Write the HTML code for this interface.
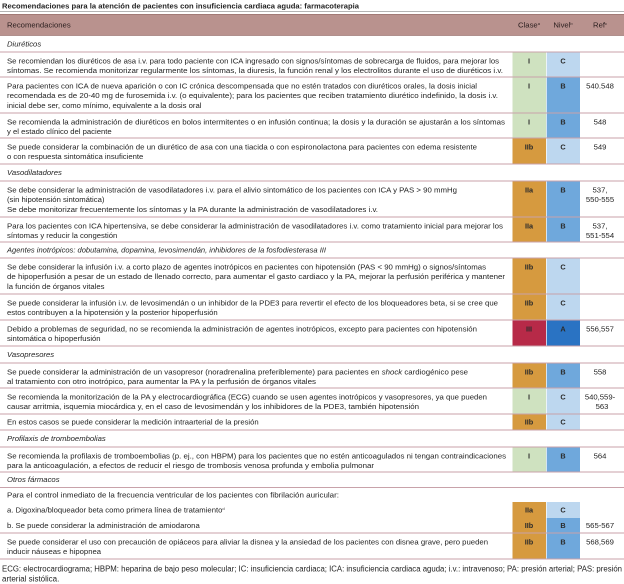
<!DOCTYPE html>
<html><head><meta charset="utf-8"><style>
html,body{margin:0;padding:0;background:#fff;}
svg{display:block;}
text{font-family:"Liberation Sans","DejaVu Sans",sans-serif;font-size:7.7px;fill:#242424;}
.b{font-weight:bold;font-size:7.3px;fill:#2a2a2a;}
.i{font-style:italic;}
.h{fill:#2a1e1e;}
.sup{font-size:4px;}
</style></head><body>
<svg width="624" height="584" viewBox="0 0 624 584" xmlns="http://www.w3.org/2000/svg">
<rect x="0" y="0" width="624" height="584" fill="#fff"/>
<!-- title -->
<text x="2" y="8.3" font-weight="bold" style="font-size:7.6px" textLength="357" lengthAdjust="spacingAndGlyphs">Recomendaciones para la atención de pacientes con insuficiencia cardiaca aguda: farmacoterapia</text>
<rect x="0" y="11" width="624" height="1" fill="#b4b4b4"/>
<!-- header -->
<rect x="0" y="14" width="624" height="21.5" fill="#b9928e"/>
<rect x="0" y="14" width="624" height="0.8" fill="#9c7471"/>
<rect x="0" y="35" width="624" height="0.8" fill="#9c7471"/>
<text class="h" x="7" y="27.5">Recomendaciones</text>
<text class="h" x="529" y="27.5" text-anchor="middle">Clase<tspan class="sup" dy="-2.5">a</tspan></text>
<text class="h" x="563" y="27.5" text-anchor="middle">Nivel<tspan class="sup" dy="-2.5">b</tspan></text>
<text class="h" x="600" y="27.5" text-anchor="middle">Ref<tspan class="sup" dy="-2.5">c</tspan></text>

<!-- colored blocks -->
<g>
<rect x="512.5" y="52" width="33.5" height="25" fill="#cfe2c0"/>
<rect x="512.5" y="77" width="33.5" height="36" fill="#cfe2c0"/>
<rect x="512.5" y="113" width="33.5" height="25" fill="#cfe2c0"/>
<rect x="512.5" y="138" width="33.5" height="26" fill="#d69a3f"/>
<rect x="512.5" y="181" width="33.5" height="36" fill="#d69a3f"/>
<rect x="512.5" y="217" width="33.5" height="25" fill="#d69a3f"/>
<rect x="512.5" y="258" width="33.5" height="36" fill="#d69a3f"/>
<rect x="512.5" y="294" width="33.5" height="26" fill="#d69a3f"/>
<rect x="512.5" y="320" width="33.5" height="26" fill="#b72a48"/>
<rect x="512.5" y="363" width="33.5" height="25" fill="#d69a3f"/>
<rect x="512.5" y="388" width="33.5" height="26" fill="#cfe2c0"/>
<rect x="512.5" y="414" width="33.5" height="16" fill="#d69a3f"/>
<rect x="512.5" y="447" width="33.5" height="25" fill="#cfe2c0"/>
<rect x="512.5" y="502" width="33.5" height="16" fill="#d69a3f"/>
<rect x="512.5" y="518" width="33.5" height="15" fill="#d69a3f"/>
<rect x="512.5" y="533" width="33.5" height="26" fill="#d69a3f"/>
<rect x="546.7" y="52" width="33.3" height="25" fill="#bdd7ef"/>
<rect x="546.7" y="77" width="33.3" height="36" fill="#6fa8dc"/>
<rect x="546.7" y="113" width="33.3" height="25" fill="#6fa8dc"/>
<rect x="546.7" y="138" width="33.3" height="26" fill="#bdd7ef"/>
<rect x="546.7" y="181" width="33.3" height="36" fill="#6fa8dc"/>
<rect x="546.7" y="217" width="33.3" height="25" fill="#6fa8dc"/>
<rect x="546.7" y="258" width="33.3" height="36" fill="#bdd7ef"/>
<rect x="546.7" y="294" width="33.3" height="26" fill="#bdd7ef"/>
<rect x="546.7" y="320" width="33.3" height="26" fill="#2a73c3"/>
<rect x="546.7" y="363" width="33.3" height="25" fill="#6fa8dc"/>
<rect x="546.7" y="388" width="33.3" height="26" fill="#bdd7ef"/>
<rect x="546.7" y="414" width="33.3" height="16" fill="#bdd7ef"/>
<rect x="546.7" y="447" width="33.3" height="25" fill="#6fa8dc"/>
<rect x="546.7" y="502" width="33.3" height="16" fill="#bdd7ef"/>
<rect x="546.7" y="518" width="33.3" height="15" fill="#6fa8dc"/>
<rect x="546.7" y="533" width="33.3" height="26" fill="#6fa8dc"/>
</g>

<!-- separator lines -->
<g fill="#c8a2aa">
<rect x="0" y="51.5" width="624" height="1"/>
<rect x="0" y="76.5" width="624" height="1"/>
<rect x="0" y="112.5" width="624" height="1"/>
<rect x="0" y="137.5" width="624" height="1"/>
<rect x="0" y="163.5" width="624" height="1"/>
<rect x="0" y="180.5" width="624" height="1"/>
<rect x="0" y="216.5" width="624" height="1"/>
<rect x="0" y="241.5" width="624" height="1"/>
<rect x="0" y="257.5" width="624" height="1"/>
<rect x="0" y="293.5" width="624" height="1"/>
<rect x="0" y="319.5" width="624" height="1"/>
<rect x="0" y="345.5" width="624" height="1"/>
<rect x="0" y="362.5" width="624" height="1"/>
<rect x="0" y="387.5" width="624" height="1"/>
<rect x="0" y="413.5" width="624" height="1"/>
<rect x="0" y="429.5" width="624" height="1"/>
<rect x="0" y="446.5" width="624" height="1"/>
<rect x="0" y="471.5" width="624" height="1"/>
<rect x="0" y="487" width="624" height="1"/>
<rect x="0" y="532.5" width="624" height="1"/>
<rect x="0" y="558.5" width="624" height="1"/>
</g>

<!-- block labels -->
<g text-anchor="middle">
<text class="b" x="529" y="63.5">I</text><text class="b" x="563" y="63.5">C</text>
<text class="b" x="529" y="88.5">I</text><text class="b" x="563" y="88.5">B</text>
<text class="b" x="529" y="124.5">I</text><text class="b" x="563" y="124.5">B</text>
<text class="b" x="529" y="149.5">IIb</text><text class="b" x="563" y="149.5">C</text>
<text class="b" x="529" y="192.5">IIa</text><text class="b" x="563" y="192.5">B</text>
<text class="b" x="529" y="228.5">IIa</text><text class="b" x="563" y="228.5">B</text>
<text class="b" x="529" y="269.5">IIb</text><text class="b" x="563" y="269.5">C</text>
<text class="b" x="529" y="305.5">IIb</text><text class="b" x="563" y="305.5">C</text>
<text class="b" x="529" y="331.5">III</text><text class="b" x="563" y="331.5">A</text>
<text class="b" x="529" y="374.5">IIb</text><text class="b" x="563" y="374.5">B</text>
<text class="b" x="529" y="399.5">I</text><text class="b" x="563" y="399.5">C</text>
<text class="b" x="529" y="424.5">IIb</text><text class="b" x="563" y="424.5">C</text>
<text class="b" x="529" y="458.5">I</text><text class="b" x="563" y="458.5">B</text>
<text class="b" x="529" y="512.5">IIa</text><text class="b" x="563" y="512.5">C</text>
<text class="b" x="529" y="528">IIb</text><text class="b" x="563" y="528">B</text>
<text class="b" x="529" y="544.5">IIb</text><text class="b" x="563" y="544.5">B</text>
</g>

<!-- refs -->
<g text-anchor="middle">
<text x="600" y="88.5">540.548</text>
<text x="600" y="124.5">548</text>
<text x="600" y="149.5">549</text>
<text x="600" y="192.5">537,</text><text x="600" y="202.2">550-555</text>
<text x="600" y="228.5">537,</text><text x="600" y="238.2">551-554</text>
<text x="600" y="331.5">556,557</text>
<text x="600" y="374.5">558</text>
<text x="600" y="399.5">540,559-</text><text x="602" y="409.2">563</text>
<text x="600" y="458.5">564</text>
<text x="600" y="528">565-567</text>
<text x="600" y="544.5">568,569</text>
</g>

<!-- category rows -->
<text class="i" x="7" y="46.5">Diuréticos</text>
<text class="i" x="7" y="175">Vasodilatadores</text>
<text class="i" x="7" y="252.5" textLength="319" lengthAdjust="spacingAndGlyphs">Agentes inotrópicos: dobutamina, dopamina, levosimendán, inhibidores de la fosfodiesterasa III</text>
<text class="i" x="7" y="357">Vasopresores</text>
<text class="i" x="7" y="441">Profilaxis de tromboembolias</text>
<text class="i" x="7" y="482">Otros fármacos</text>

<!-- body rows -->
<text x="7" y="63.5" textLength="492" lengthAdjust="spacingAndGlyphs">Se recomiendan los diuréticos de asa i.v. para todo paciente con ICA ingresado con signos/síntomas de sobrecarga de fluidos, para mejorar los</text>
<text x="7" y="73.2" textLength="496" lengthAdjust="spacingAndGlyphs">síntomas. Se recomienda monitorizar regularmente los síntomas, la diuresis, la función renal y los electrolitos durante el uso de diuréticos i.v.</text>

<text x="7" y="88.5" textLength="470" lengthAdjust="spacingAndGlyphs">Para pacientes con ICA de nueva aparición o con IC crónica descompensada que no estén tratados con diuréticos orales, la dosis inicial</text>
<text x="7" y="98.2" textLength="491" lengthAdjust="spacingAndGlyphs">recomendada es de 20-40 mg de furosemida i.v. (o equivalente); para los pacientes que reciben tratamiento diurético indefinido, la dosis i.v.</text>
<text x="7" y="107.9">inicial debe ser, como mínimo, equivalente a la dosis oral</text>

<text x="7" y="124.5" textLength="498" lengthAdjust="spacingAndGlyphs">Se recomienda la administración de diuréticos en bolos intermitentes o en infusión continua; la dosis y la duración se ajustarán a los síntomas</text>
<text x="7" y="134.2">y el estado clínico del paciente</text>

<text x="7" y="149.5" textLength="470" lengthAdjust="spacingAndGlyphs">Se puede considerar la combinación de un diurético de asa con una tiacida o con espironolactona para pacientes con edema resistente</text>
<text x="7" y="159.2">o con respuesta sintomática insuficiente</text>

<text x="7" y="192.5" textLength="450" lengthAdjust="spacingAndGlyphs">Se debe considerar la administración de vasodilatadores i.v. para el alivio sintomático de los pacientes con ICA y PAS &gt; 90 mmHg</text>
<text x="7" y="202.2">(sin hipotensión sintomática)</text>
<text x="7" y="211.9" textLength="371" lengthAdjust="spacingAndGlyphs">Se debe monitorizar frecuentemente los síntomas y la PA durante la administración de vasodilatadores i.v.</text>

<text x="7" y="228.5" textLength="496" lengthAdjust="spacingAndGlyphs">Para los pacientes con ICA hipertensiva, se debe considerar la administración de vasodilatadores i.v. como tratamiento inicial para mejorar los</text>
<text x="7" y="238.2">síntomas y reducir la congestión</text>

<text x="7" y="269.5" textLength="479" lengthAdjust="spacingAndGlyphs">Se debe considerar la infusión i.v. a corto plazo de agentes inotrópicos en pacientes con hipotensión (PAS &lt; 90 mmHg) o signos/síntomas</text>
<text x="7" y="279.2" textLength="498" lengthAdjust="spacingAndGlyphs">de hipoperfusión a pesar de un estado de llenado correcto, para aumentar el gasto cardiaco y la PA, mejorar la perfusión periférica y mantener</text>
<text x="7" y="288.9">la función de órganos vitales</text>

<text x="7" y="305.5" textLength="491" lengthAdjust="spacingAndGlyphs">Se puede considerar la infusión i.v. de levosimendán o un inhibidor de la PDE3 para revertir el efecto de los bloqueadores beta, si se cree que</text>
<text x="7" y="315.2">estos contribuyen a la hipotensión y la posterior hipoperfusión</text>

<text x="7" y="331.5" textLength="470" lengthAdjust="spacingAndGlyphs">Debido a problemas de seguridad, no se recomienda la administración de agentes inotrópicos, excepto para pacientes con hipotensión</text>
<text x="7" y="341.2">sintomática o hipoperfusión</text>

<text x="7" y="374.5" textLength="461" lengthAdjust="spacingAndGlyphs">Se puede considerar la administración de un vasopresor (noradrenalina preferiblemente) para pacientes en <tspan class="i">shock</tspan> cardiogénico pese</text>
<text x="7" y="384.2" textLength="309" lengthAdjust="spacingAndGlyphs">al tratamiento con otro inotrópico, para aumentar la PA y la perfusión de órganos vitales</text>

<text x="7" y="399.5" textLength="480" lengthAdjust="spacingAndGlyphs">Se recomienda la monitorización de la PA y electrocardiográfica (ECG) cuando se usen agentes inotrópicos y vasopresores, ya que pueden</text>
<text x="7" y="409.2" textLength="412" lengthAdjust="spacingAndGlyphs">causar arritmia, isquemia miocárdica y, en el caso de levosimendán y los inhibidores de la PDE3, también hipotensión</text>

<text x="7" y="424.5">En estos casos se puede considerar la medición intraarterial de la presión</text>

<text x="7" y="458.5" textLength="499" lengthAdjust="spacingAndGlyphs">Se recomienda la profilaxis de tromboembolias (p. ej., con HBPM) para los pacientes que no estén anticoagulados ni tengan contraindicaciones</text>
<text x="7" y="468.2" textLength="367" lengthAdjust="spacingAndGlyphs">para la anticoagulación, a efectos de reducir el riesgo de trombosis venosa profunda y embolia pulmonar</text>

<text x="7" y="497.5" textLength="332" lengthAdjust="spacingAndGlyphs">Para el control inmediato de la frecuencia ventricular de los pacientes con fibrilación auricular:</text>
<text x="7" y="512.5">a. Digoxina/bloqueador beta como primera línea de tratamiento<tspan class="sup" dy="-2.5">d</tspan></text>
<text x="7" y="528">b. Se puede considerar la administración de amiodarona</text>

<text x="7" y="544.5" textLength="481" lengthAdjust="spacingAndGlyphs">Se puede considerar el uso con precaución de opiáceos para aliviar la disnea y la ansiedad de los pacientes con disnea grave, pero pueden</text>
<text x="7" y="554.2">inducir náuseas e hipopnea</text>

<!-- footer -->
<text x="2" y="571.5" style="font-size:8px" textLength="620" lengthAdjust="spacingAndGlyphs">ECG: electrocardiograma; HBPM: heparina de bajo peso molecular; IC: insuficiencia cardiaca; ICA: insuficiencia cardiaca aguda; i.v.: intravenoso; PA: presión arterial; PAS: presión</text>
<text x="2" y="581.5" style="font-size:8px">arterial sistólica.</text>
</svg>
</body></html>
